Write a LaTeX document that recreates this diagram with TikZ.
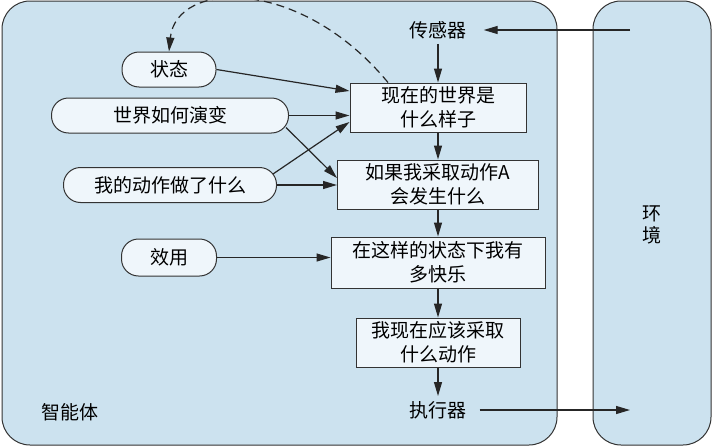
\documentclass[tikz,border=0pt]{standalone}
\usepackage{fontspec}
\setmainfont{Noto Sans CJK SC}
\usetikzlibrary{positioning, arrows.meta, calc}
\definecolor{agentblue}{HTML}{CCE2EF}
\definecolor{nodefill}{HTML}{EFF6FB}
\definecolor{edge}{HTML}{333333}

\begin{document}
\begin{tikzpicture}[
    x=1pt, y=1pt,
    font=\fontsize{19}{24}\selectfont,
    node distance=27pt,
    region/.style={draw=edge, line width=1pt, fill=agentblue, rounded corners=28pt},
    box/.style={rectangle, draw=edge, line width=1pt, fill=nodefill, minimum height=49pt, align=center, inner sep=2pt},
    pill/.style={rectangle, draw=edge, line width=1pt, fill=nodefill, rounded corners=17pt, minimum height=35pt, align=center},
    label/.style={inner sep=5pt},
    arrow/.style={-{Triangle[length=14pt,width=8pt]}, line width=1.2pt, draw=black!85}
]
    \useasboundingbox (0,0) rectangle (712,-447);

    % Agent and environment
    \draw[region] (2,-1) rectangle (557,-445);
    \draw[region] (593,-1) rectangle (711,-445);

    % Decision chain
    \node[box, minimum width=176pt] (world-now) at (438,-107.5) {现在的世界是\\什么样子};
    \node[box, minimum width=201pt, below=of world-now] (what-if) {如果我采取动作A\\会发生什么};
    \node[box, minimum width=214pt, minimum height=51pt, below=of what-if] (happy) {在这样的状态下我有\\多快乐};
    \node[box, minimum width=164pt, below=29pt of happy] (action) {我现在应该采取\\什么动作};

    % Sensors and actuators
    \node[label] (sensor) at (438,-30) {传感器};
    \node[label] (actuator) at (438,-410) {执行器};

    % Internal knowledge
    \node[pill, minimum width=94pt] (state) at (169,-69.5) {状态};
    \node[pill, minimum width=237pt] (evolve) at (170,-115.5) {世界如何演变};
    \node[pill, minimum width=213pt] (my-act) at (170,-185) {我的动作做了什么};
    \node[pill, minimum width=95pt, minimum height=37pt] (utility) at (169,-257.5) {效用};

    % Labels
    \node (agent-lbl) at (70,-412) {智能体};
    \node[align=center, font=\fontsize{19}{21.5}\selectfont] (env-lbl) at (652,-225) {环\\境};

    \coordinate (env-in) at (630,-30);
    \coordinate (env-out) at (630,-410);

    % Arrows
    \draw[arrow] (env-in) -- ([xshift=12pt]sensor.east);
    \draw[arrow] (sensor) -- (world-now);
    \draw[arrow] (world-now) -- (what-if);
    \draw[arrow] (what-if) -- (happy);
    \draw[arrow] (happy) -- (action);
    \draw[arrow] (action) -- (actuator);
    \draw[arrow] ([xshift=8pt]actuator.east) -- (env-out);

    \draw[arrow] (state.east) -- ([yshift=16.5pt]world-now.west);
    \draw[arrow] (evolve) -- (evolve -| world-now.west);
    \draw[arrow] ([xshift=-3pt,yshift=6pt]evolve.south east) -- ([yshift=6.5pt]what-if.west);
    \draw[arrow] ([xshift=-4pt,yshift=-7pt]my-act.north east) -- ([yshift=-14.5pt]world-now.west);
    \draw[arrow] (my-act) -- (my-act -| what-if.west);
    \draw[arrow] (utility) -- (utility -| happy.west);

    % Feedback to state
    \draw[arrow, dash pattern=on 8pt off 5pt] ([xshift=-50pt]world-now.north) .. controls (300,24) and (176,20) .. (state.north);
\end{tikzpicture}
\end{document}
